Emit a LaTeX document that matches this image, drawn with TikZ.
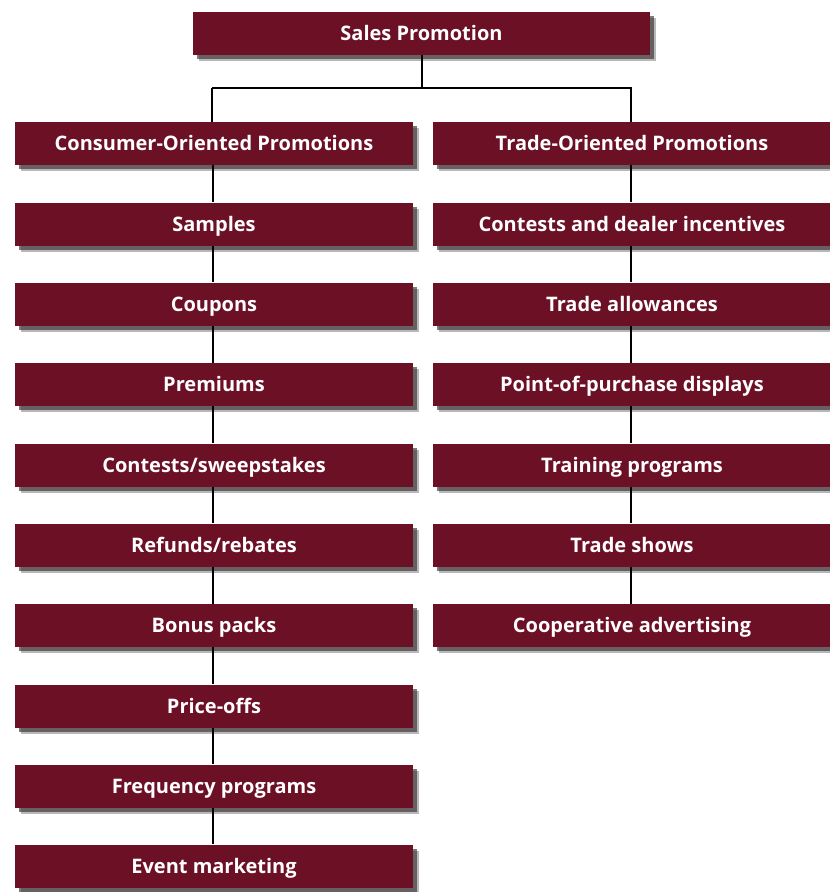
\documentclass[tikz,border=0pt]{standalone}
\usepackage{fontspec}
\setmainfont{Open Sans}
\definecolor{boxred}{RGB}{108,16,38}
\definecolor{shad}{RGB}{60,50,52}
\tikzset{
  box/.style={fill=boxred, minimum height=43pt, inner sep=0pt, text=white,
    font=\bfseries\fontsize{20}{22}\selectfont, text height=16pt, text depth=2pt,
    preaction={fill=shad, opacity=0.35, transform canvas={shift={(6pt,-6pt)}}},
    preaction={fill=shad, opacity=0.65, transform canvas={shift={(4pt,-4pt)}}}},
  lbox/.style={box, minimum width=398pt},
  conn/.style={draw=black, line width=2pt}
}
\begin{document}
\begin{tikzpicture}[x=1pt,y=-1pt]
\useasboundingbox (0,0) rectangle (830,892);
\fill[white] (0,0) rectangle (830,892);
\node[box, minimum width=457pt] (sp) at (421.5,33.5) {Sales Promotion};
% left column
\node[lbox] (c0) at (214,143.5) {Consumer-Oriented Promotions};
\node[lbox] (c1) at (214,224) {Samples};
\node[lbox] (c2) at (214,304) {Coupons};
\node[lbox] (c3) at (214,384.5) {Premiums};
\node[lbox] (c4) at (214,465) {Contests/sweepstakes};
\node[lbox] (c5) at (214,545) {Refunds/rebates};
\node[lbox] (c6) at (214,625.5) {Bonus packs};
\node[lbox] (c7) at (214,706) {Price-offs};
\node[lbox] (c8) at (214,786) {Frequency programs};
\node[lbox] (c9) at (214,866) {Event marketing};
% right column
\node[lbox] (t0) at (632,143.5) {Trade-Oriented Promotions};
\node[lbox] (t1) at (632,224) {Contests and dealer incentives};
\node[lbox] (t2) at (632,304) {Trade allowances};
\node[lbox] (t3) at (632,384.5) {Point-of-purchase displays};
\node[lbox] (t4) at (632,465) {Training programs};
\node[lbox] (t5) at (632,545) {Trade shows};
\node[lbox] (t6) at (632,625.5) {Cooperative advertising};
% connectors
\coordinate (m) at (421.5,88);
\draw[conn] (sp.south) -- (m);
\draw[conn] (212,88) -| ([xshift=-2pt]c0.north);
\draw[conn] (212,88) -- (631,88) -- ([xshift=-1pt]t0.north);
\foreach \a/\b in {c0/c1,c1/c2,c2/c3,c3/c4,c4/c5,c5/c6,c6/c7,c7/c8,c8/c9,
                   t0/t1,t1/t2,t2/t3,t3/t4,t4/t5,t5/t6}
  \draw[conn] ([xshift=-1.5pt]\a.south) -- ([xshift=-1.5pt]\b.north);
\end{tikzpicture}
\end{document}
